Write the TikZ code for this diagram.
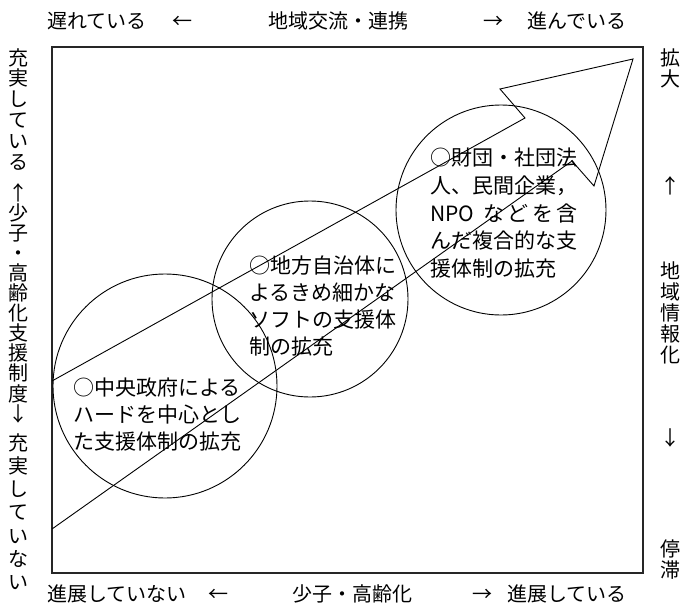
\documentclass[tikz,border=0pt]{standalone}
\usepackage{fontspec}
\setmainfont{Noto Sans CJK JP}
\begin{document}
\begin{tikzpicture}[x=1pt,y=-1pt,
  lbl/.style={font=\fontsize{20}{20}\selectfont, inner sep=0, anchor=base},
  lblw/.style={font=\fontsize{20}{20}\selectfont, inner sep=0, anchor=base west},
  body/.style={font=\fontsize{21}{27}\selectfont, inner sep=0, anchor=base west},
  ring/.style={circle, draw, line width=0.9pt, inner sep=0},
  ln/.style={line width=0.9pt, line join=miter}]
\useasboundingbox (0,0) rectangle (689,608);
% frame
\node (frame) [draw, line width=1.2pt, draw=black!85, minimum width=591pt, minimum height=526pt, inner sep=0, outer sep=0, anchor=north west] at (52,47) {};
% circles
\node (c1) [ring, minimum size=224pt] at (165,386) {};
\node (c2) [ring, minimum size=196pt] at (310,299) {};
\node (c3) [ring, minimum size=210pt] at (501,210) {};
% arrow
\coordinate (s1) at (52,529);
\coordinate (n1) at (572,161);
\coordinate (b1) at (594,186);
\coordinate (tip) at (633,59);
\coordinate (b2) at (500,89);
\coordinate (n2) at (525,118);
\coordinate (s2) at (52,381);
\draw[ln] (s1) -- (n1) -- (b1) -- (tip) -- (b2) -- (n2) -- (s2);
% circle texts
\node (t1a) [body] at (73,395) {○中央政府による};
\node (t1b) [body] at (73,422) {ハードを中心とし};
\node (t1c) [body] at (73,449) {た支援体制の拡充};
\node (t2a) [body] at (249,273) {○地方自治体に};
\node (t2b) [body] at (249,300) {よるきめ細かな};
\node (t2c) [body] at (249,327) {ソフトの支援体};
\node (t2d) [body] at (249,354) {制の拡充};
\node (t3a) [body] at (430,165) {○財団・社団法};
\node (t3b) [body] at (430,193) {人、民間企業，};
\node (t3c) [body] at (430,221) {\makebox[7em][s]{NPO\hspace{0.3em}\hfill な\hfill ど\hfill を\hfill 含}};
\node (t3d) [body] at (430,248) {んだ複合的な支};
\node (t3e) [body] at (430,276) {援体制の拡充};
% top labels
\node (tl) [lblw] at (47,28) {遅れている};
\node (tla) [lbl] at (182,28) {←};
\node (tm) [lblw] at (268,28) {地域交流・連携};
\node (tra) [lbl] at (493,28) {→};
\node (tr) [lblw] at (527,28) {進んでいる};
% bottom labels
\node (bl) [lblw] at (47,601) {進展していない};
\node (bla) [lbl] at (218,601) {←};
\node (bm) [lblw] at (292,601) {少子・高齢化};
\node (bra) [lbl] at (482,601) {→};
\node (br) [lblw] at (507,601) {進展している};
% left column
\foreach \c [count=\i] in {充,実,し,て,い,る}
  \node (la\i) [lbl] at (19,{57+8+(\i-1)*20.8}) {\c};
\foreach \c [count=\i] in {↑,少,子,・,高,齢,化,支,援,制,度,↓}
  \node (lb\i) [lbl] at (19,{192+8+(\i-1)*20.1}) {\c};
\foreach \c [count=\i] in {充,実,し,て,い,な,い}
  \node (lc\i) [lbl] at (19,{442+8+(\i-1)*23.3}) {\c};
% right column
\foreach \c [count=\i] in {拡,大}
  \node (ra\i) [lbl] at (670,{57+8+(\i-1)*21}) {\c};
\node (rup) [lbl] at (670,193) {↑};
\foreach \c [count=\i] in {地,域,情,報,化}
  \node (rb\i) [lbl] at (670,{270+8+(\i-1)*21.2}) {\c};
\node (rdn) [lbl] at (670,445) {↓};
\foreach \c [count=\i] in {停,滞}
  \node (rc\i) [lbl] at (670,{548+8+(\i-1)*21}) {\c};
\end{tikzpicture}
\end{document}
